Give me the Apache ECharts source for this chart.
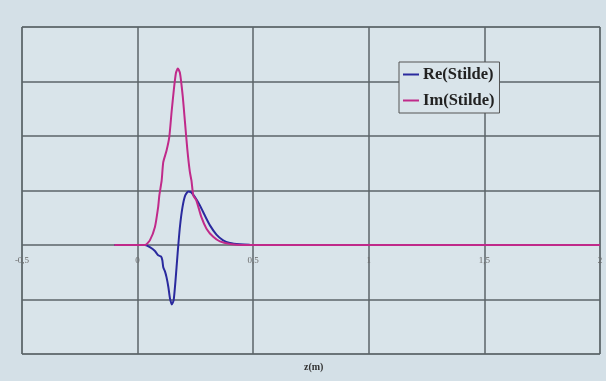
<!DOCTYPE html>
<html><head><meta charset="utf-8">
<script src="https://cdn.jsdelivr.net/npm/echarts@6/dist/echarts.min.js"></script>
<style>html,body{margin:0;padding:0;}#c{width:606px;height:381px;}</style>
</head><body><div id="c"></div>
<script>
const xTicks = [-0.5, 0, 0.5, 1, 1.5, 2];
const reX = [-0.1, 0.0, 0.032, 0.053, 0.075, 0.089, 0.101, 0.107, 0.111, 0.118, 0.125, 0.133, 0.140, 0.148, 0.156, 0.164, 0.173, 0.183, 0.194, 0.206, 0.219, 0.231, 0.248, 0.269, 0.291, 0.313, 0.341, 0.37, 0.399, 0.442, 0.485, 0.55, 1.0, 1.5, 2.0];
const reY = [0, 0, 0, -0.04, -0.11, -0.19, -0.21, -0.28, -0.41, -0.48, -0.59, -0.77, -0.98, -1.09, -1.01, -0.65, -0.16, 0.33, 0.69, 0.91, 0.98, 0.97, 0.88, 0.73, 0.54, 0.36, 0.19, 0.085, 0.037, 0.012, 0.003, 0, 0, 0, 0];
const imX = [-0.1, 0.0, 0.032, 0.053, 0.075, 0.089, 0.094, 0.104, 0.111, 0.125, 0.137, 0.147, 0.157, 0.166, 0.174, 0.183, 0.195, 0.205, 0.215, 0.226, 0.233, 0.241, 0.254, 0.276, 0.298, 0.327, 0.356, 0.40, 0.45, 1.0, 1.5, 2.0];
const imY = [0, 0, 0, 0.085, 0.33, 0.70, 0.91, 1.18, 1.52, 1.73, 1.98, 2.44, 2.86, 3.16, 3.24, 3.16, 2.74, 2.25, 1.76, 1.34, 1.18, 0.91, 0.82, 0.51, 0.30, 0.15, 0.067, 0.02, 0, 0, 0, 0];
const seriesNames = ['Re(Stilde)', 'Im(Stilde)'];

const zip = (xs, ys) => xs.map((x, i) => [x, ys[i]]);
const gridColor = '#5b6468';
const chart = echarts.init(document.getElementById('c'));
chart.setOption({
  backgroundColor: '#d4e0e7',
  animation: false,
  title: {
    text: 'z(m)', left: 299, top: 357,
    textStyle: { fontFamily: 'Liberation Serif', fontWeight: 'bold', fontSize: 10, color: '#333' }
  },
  grid: { left: 22, right: 6, top: 27, bottom: 27, show: true, backgroundColor: '#d9e4ea', borderColor: gridColor, borderWidth: 1 },
  legend: {
    left: 399, top: 62, orient: 'vertical',
    data: seriesNames,
    backgroundColor: '#d9e4ea', borderColor: '#555', borderWidth: 1,
    padding: [4, 5, 4, 4], itemGap: 9, itemWidth: 16, itemHeight: 2, icon: 'rect',
    textStyle: { fontFamily: 'Liberation Serif', fontWeight: 'bold', fontSize: 16.5, color: '#222', padding: [0, 0, 0, -1] }
  },
  xAxis: {
    type: 'value', min: xTicks[0], max: xTicks[xTicks.length - 1], interval: 0.5,
    offset: -109.6,
    axisLine: { show: false },
    axisTick: { show: false },
    axisLabel: { margin: 12, fontSize: 9, fontFamily: 'Liberation Serif', color: '#6a6a6a',
      formatter: v => String(v).replace('.', ',') },
    splitLine: { show: true, lineStyle: { color: gridColor, width: 1.5 } }
  },
  yAxis: {
    type: 'value', min: -2, max: 4, interval: 1,
    axisLine: { show: false }, axisTick: { show: false }, axisLabel: { show: false },
    splitLine: { show: true, lineStyle: { color: gridColor, width: 1.5 } }
  },
  series: [
    { name: seriesNames[0], type: 'line', data: zip(reX, reY), showSymbol: false, smooth: 0.2,
      lineStyle: { color: '#2a2a9e', width: 2 }, itemStyle: { color: '#2a2a9e' } },
    { name: seriesNames[1], type: 'line', data: zip(imX, imY), showSymbol: false, smooth: 0.2,
      lineStyle: { color: '#c02a8a', width: 2 }, itemStyle: { color: '#c02a8a' } }
  ]
});
</script></body></html>
